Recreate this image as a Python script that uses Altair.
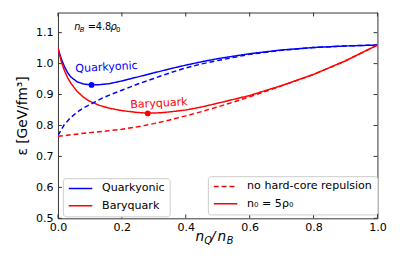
import altair as alt
import pandas as pd

# ---------------- data ----------------
quark_n0_x = [0.0, 0.01, 0.02, 0.03, 0.04, 0.06, 0.08, 0.105, 0.13, 0.16, 0.2, 0.25, 0.3, 0.35, 0.4, 0.45, 0.5, 0.6, 0.7, 0.8, 0.9, 1.0]
quark_n0_y = [1.050, 1.016, 0.991, 0.971, 0.957, 0.941, 0.934, 0.931, 0.932, 0.935, 0.944, 0.957, 0.970, 0.983, 0.995, 1.006, 1.016, 1.032, 1.044, 1.052, 1.057, 1.060]

bary_n0_x = [0.0, 0.01, 0.02, 0.03, 0.04, 0.06, 0.08, 0.1, 0.13, 0.16, 0.2, 0.25, 0.28, 0.32, 0.35, 0.4, 0.45, 0.5, 0.6, 0.7, 0.8, 0.9, 1.0]
bary_n0_y = [1.050, 1.008, 0.978, 0.955, 0.937, 0.910, 0.891, 0.878, 0.865, 0.856, 0.848, 0.842, 0.840, 0.841, 0.844, 0.850, 0.860, 0.872, 0.897, 0.929, 0.965, 1.009, 1.060]

quark_nohc_x = [0.0, 0.02, 0.04, 0.06, 0.08, 0.11, 0.14, 0.17, 0.2, 0.25, 0.3, 0.35, 0.4, 0.45, 0.5, 0.6, 0.7, 0.8, 0.9, 1.0]
quark_nohc_y = [0.768, 0.803, 0.826, 0.843, 0.857, 0.873, 0.889, 0.902, 0.914, 0.934, 0.952, 0.970, 0.986, 0.999, 1.010, 1.030, 1.043, 1.052, 1.057, 1.060]

bary_nohc_x = [0.0, 0.05, 0.1, 0.15, 0.2, 0.25, 0.3, 0.35, 0.4, 0.45, 0.5, 0.55, 0.6, 0.7, 0.8, 0.9, 1.0]
bary_nohc_y = [0.765, 0.771, 0.777, 0.782, 0.788, 0.796, 0.806, 0.818, 0.831, 0.845, 0.860, 0.876, 0.893, 0.928, 0.965, 1.009, 1.060]

models = ["Quarkyonic", "Baryquark"]
variants = ["no hard-core repulsion", "n\u2080 = 5\u03c1\u2080"]
model_colors = ["#0000ff", "#ff0000"]

minima_model = ["Quarkyonic", "Baryquark"]
minima_x = [0.105, 0.281]
minima_y = [0.931, 0.839]

label_text = ["Quarkyonic", "Baryquark"]
label_x = [0.152, 0.316]
label_y = [0.987, 0.870]

x_ticks = [0.0, 0.2, 0.4, 0.6, 0.8, 1.0]
y_ticks = [0.5, 0.6, 0.7, 0.8, 0.9, 1.0, 1.1]
x_domain = [0.0, 1.0]
y_domain = [0.5, 1.165]

# ---------------- tables ----------------
rows = []
for xs, ys, m, v in [
    (quark_n0_x, quark_n0_y, models[0], variants[1]),
    (bary_n0_x, bary_n0_y, models[1], variants[1]),
    (quark_nohc_x, quark_nohc_y, models[0], variants[0]),
    (bary_nohc_x, bary_nohc_y, models[1], variants[0]),
]:
    for a, b in zip(xs, ys):
        rows.append({"x": a, "y": b, "model": m, "variant": v})
df = pd.DataFrame(rows)

FONT = "DejaVu Sans"
FS = 11.3

xscale = alt.Scale(domain=x_domain, nice=False, zero=False)
yscale = alt.Scale(domain=y_domain, nice=False, zero=False)

xaxis = alt.Axis(values=x_ticks, format=".1f", ticks=False, domain=False, grid=False,
                 labelPadding=3, labelFontSize=FS, labelFont=FONT, labelColor="black",
                 labelFlush=False, labelOverlap=False, title="")
yaxis = alt.Axis(values=y_ticks, format=".1f", ticks=False, domain=False, grid=False,
                 labelPadding=5, labelFontSize=FS, labelFont=FONT, labelColor="black",
                 labelFlush=False, labelOverlap=False,
                 title="\u03b5 [GeV/fm\u00b3]", titleFontSize=14, titleFont=FONT,
                 titleFontWeight="normal", titleColor="black", titlePadding=6)

legend_common = dict(orient="none", symbolType="stroke", symbolSize=576, symbolStrokeWidth=1.5,
                     labelFont=FONT, labelFontSize=FS, labelColor="black",
                     strokeColor="#cccccc", fillColor="white", padding=5, cornerRadius=3,
                     rowPadding=5.7, clipHeight=11, labelOffset=9)

def X(field):
    return alt.X(field, scale=xscale, axis=xaxis, title="")

def Y(field):
    return alt.Y(field, scale=yscale, axis=yaxis, title="\u03b5 [GeV/fm\u00b3]")

lines = alt.Chart(df).mark_line(strokeWidth=1.5, clip=True).encode(
    x=X("x:Q"),
    y=Y("y:Q"),
    color=alt.Color("model:N", title=None,
                    scale=alt.Scale(domain=models, range=model_colors),
                    legend=alt.Legend(legendX=5, legendY=169, **legend_common)),
    strokeDash=alt.StrokeDash("variant:N", title=None,
                              scale=alt.Scale(domain=variants, range=[[5, 3], [1, 0]]),
                              legend=alt.Legend(legendX=153, legendY=167, symbolStrokeColor="#ff0000",
                                                **legend_common)),
    order=alt.Order("x:Q"),
)

pts_df = pd.DataFrame({"x": minima_x, "y": minima_y, "model": minima_model})
points = alt.Chart(pts_df).mark_point(filled=True, size=34, opacity=1).encode(
    x=X("x:Q"),
    y=Y("y:Q"),
    color=alt.Color("model:N", scale=alt.Scale(domain=models, range=model_colors), legend=None),
)

lab_df = pd.DataFrame({"x": label_x, "y": label_y, "text": label_text})
labels = alt.Chart(lab_df).mark_text(font=FONT, fontSize=FS, angle=357, align="center", baseline="middle").encode(
    x=X("x:Q"),
    y=Y("y:Q"),
    text="text:N",
    color=alt.Color("text:N", scale=alt.Scale(domain=models, range=model_colors), legend=None),
)

# inward ticks on all four sides
xt = pd.DataFrame({"x": x_ticks})
yt = pd.DataFrame({"y": y_ticks})
tick_style = dict(color="#333333", strokeWidth=1)
t_bottom = alt.Chart(xt).mark_rule(**tick_style).encode(x=X("x:Q"), y=alt.value(210), y2=alt.value(206))
t_top = alt.Chart(xt).mark_rule(**tick_style).encode(x=X("x:Q"), y=alt.value(0), y2=alt.value(4))
t_left = alt.Chart(yt).mark_rule(**tick_style).encode(y=Y("y:Q"), x=alt.value(0), x2=alt.value(4))
t_right = alt.Chart(yt).mark_rule(**tick_style).encode(y=Y("y:Q"), x=alt.value(326), x2=alt.value(322))

# annotation n_B = 4.8 rho_0 (top left) and x axis title n_Q / n_B
def txt(s, x, y, size, italic=False, color="black"):
    return alt.Chart(pd.DataFrame({"t": [s]})).mark_text(
        font=FONT, fontSize=size, fontStyle="italic" if italic else "normal",
        align="left", baseline="alphabetic", color=color).encode(
        text="t:N", x=alt.value(x), y=alt.value(y))

ann = [
    txt("n", 16.7, 17.5, 10, True),
    txt("B", 22.3, 19.5, 7, True),
    txt("=", 30.3, 17.5, 10),
    txt("4.8", 38.5, 17.5, 10),
    txt("\u03c1", 53.5, 17.5, 10, True),
    txt("0", 59.2, 19.5, 7),
    txt("n", 140.3, 233, 14, True),
    txt("Q", 149.3, 236.5, 10, True),
    txt("/", 156, 233, 14, True),
    txt("n", 162.7, 233, 14, True),
    txt("B", 172.2, 236.5, 10, True),
]

chart = alt.layer(lines, points, labels, t_bottom, t_top, t_left, t_right, *ann).resolve_scale(
    color="independent"
).properties(
    width=326, height=210,
    autosize=alt.AutoSizeParams(type="none"),
    padding={"left": 51, "top": 2, "right": 22, "bottom": 45},
    background="white",
).configure_view(stroke="#333333", strokeWidth=1)

chart.save("out.html", embed_options={"renderer": "svg", "actions": False})
